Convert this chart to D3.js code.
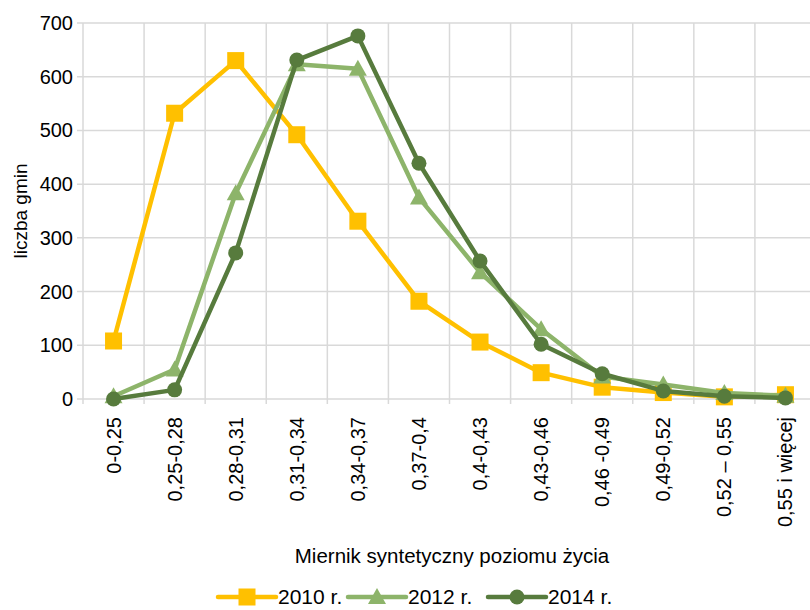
<!DOCTYPE html>
<html>
<head>
<meta charset="utf-8">
<script src="https://cdn.jsdelivr.net/npm/d3@7"></script>
<style>
  body { margin: 0; background: #fff; }
  text { font-family: "Liberation Sans", Arial, sans-serif; fill: #000; }
</style>
</head>
<body>
<script>
// Data
var categories = ["0-0,25", "0,25-0,28", "0,28-0,31", "0,31-0,34", "0,34-0,37", "0,37-0,4",
    "0,4-0,43", "0,43-0,46", "0,46 -0,49", "0,49-0,52", "0,52 \u2013 0,55", "0,55 i więcej"];
var values2010 = [108, 532, 630, 492, 331, 182, 106, 49, 22, 12, 4, 8];
var values2012 = [5, 55, 383, 623, 615, 375, 236, 130, 42, 27, 11, 6];
var values2014 = [0, 17, 272, 631, 676, 439, 257, 102, 47, 15, 5, 2];
var yTicks = [0, 100, 200, 300, 400, 500, 600, 700];
var seriesNames = ["2010 r.", "2012 r.", "2014 r."];

var series = [
    {name: seriesNames[0], values: values2010, color: "#FFC000", marker: "square"},
    {name: seriesNames[1], values: values2012, color: "#8DB46A", marker: "triangle"},
    {name: seriesNames[2], values: values2014, color: "#577B3D", marker: "circle"}
];

var width = 810, height = 610;
var plot = {left: 83, right: 816, top: 23, bottom: 399};

var svg = d3.select("body").append("svg")
    .attr("width", width)
    .attr("height", height);

// Scales
var x = d3.scaleBand()
    .domain(categories)
    .range([plot.left, plot.right]);
var y = d3.scaleLinear()
    .domain([0, 700])
    .range([plot.bottom, plot.top]);

// Grid
svg.append("g")
    .selectAll("line.h")
    .data(yTicks)
    .enter().append("line")
    .attr("x1", plot.left - 6)
    .attr("x2", plot.right)
    .attr("y1", d => y(d))
    .attr("y2", d => y(d))
    .attr("stroke", "#d9d9d9")
    .attr("stroke-width", 1.5);

svg.append("g")
    .selectAll("line.v")
    .data(categories)
    .enter().append("line")
    .attr("x1", d => x(d))
    .attr("x2", d => x(d))
    .attr("y1", plot.top)
    .attr("y2", plot.bottom + 5)
    .attr("stroke", "#d9d9d9")
    .attr("stroke-width", 1.5);

// Y axis labels
svg.append("g")
    .selectAll("text")
    .data(yTicks)
    .enter().append("text")
    .attr("x", 73)
    .attr("y", d => y(d))
    .attr("dy", "0.35em")
    .attr("text-anchor", "end")
    .style("font-size", "20px")
    .text(d => d);

// X axis labels (rotated)
svg.append("g")
    .selectAll("text")
    .data(categories)
    .enter().append("text")
    .attr("transform", d => "translate(" + (x(d) + x.bandwidth() / 2) + ",417) rotate(-90)")
    .attr("dy", "0.35em")
    .attr("text-anchor", "end")
    .style("font-size", "20px")
    .text(d => d);

// Axis titles
svg.append("text")
    .attr("transform", "translate(20," + ((plot.top + plot.bottom) / 2) + ") rotate(-90)")
    .attr("dy", "0.35em")
    .attr("text-anchor", "middle")
    .style("font-size", "19px")
    .text("liczba gmin");

svg.append("text")
    .attr("x", 452)
    .attr("y", 556)
    .attr("dy", "0.35em")
    .attr("text-anchor", "middle")
    .style("font-size", "20.5px")
    .text("Miernik syntetyczny poziomu życia");

// Markers
function drawMarker(g, type, color, cx, cy) {
    if (type == "square") {
        g.append("rect")
            .attr("x", cx - 8.5).attr("y", cy - 8.5)
            .attr("width", 17).attr("height", 17)
            .attr("fill", color);
    } else if (type == "triangle") {
        g.append("path")
            .attr("d", "M" + cx + "," + (cy - 9) + "L" + (cx + 9) + "," + (cy + 7) + "L" + (cx - 9) + "," + (cy + 7) + "Z")
            .attr("fill", color);
    } else {
        g.append("circle")
            .attr("cx", cx).attr("cy", cy).attr("r", 7.5)
            .attr("fill", color);
    }
}

var line = d3.line()
    .x((d, i) => x(categories[i]) + x.bandwidth() / 2)
    .y(d => y(d));

series.forEach(function(s) {
    var g = svg.append("g");
    g.append("path")
        .datum(s.values)
        .attr("d", line)
        .attr("fill", "none")
        .attr("stroke", s.color)
        .attr("stroke-width", 4.5)
        .attr("stroke-linejoin", "round");
    s.values.forEach(function(v, i) {
        drawMarker(g, s.marker, s.color, x(categories[i]) + x.bandwidth() / 2, y(v));
    });
});

// Legend
var legendX = [218, 348, 488];
var legendY = 597;
series.forEach(function(s, i) {
    var g = svg.append("g");
    g.append("line")
        .attr("x1", legendX[i]).attr("x2", legendX[i] + 58)
        .attr("y1", legendY).attr("y2", legendY)
        .attr("stroke", s.color)
        .attr("stroke-width", 4.5)
        .attr("stroke-linecap", "round");
    drawMarker(g, s.marker, s.color, legendX[i] + 29, legendY);
    g.append("text")
        .attr("x", legendX[i] + 60)
        .attr("y", legendY)
        .attr("dy", "0.35em")
        .style("font-size", "21px")
        .text(s.name);
});
</script>
</body>
</html>
